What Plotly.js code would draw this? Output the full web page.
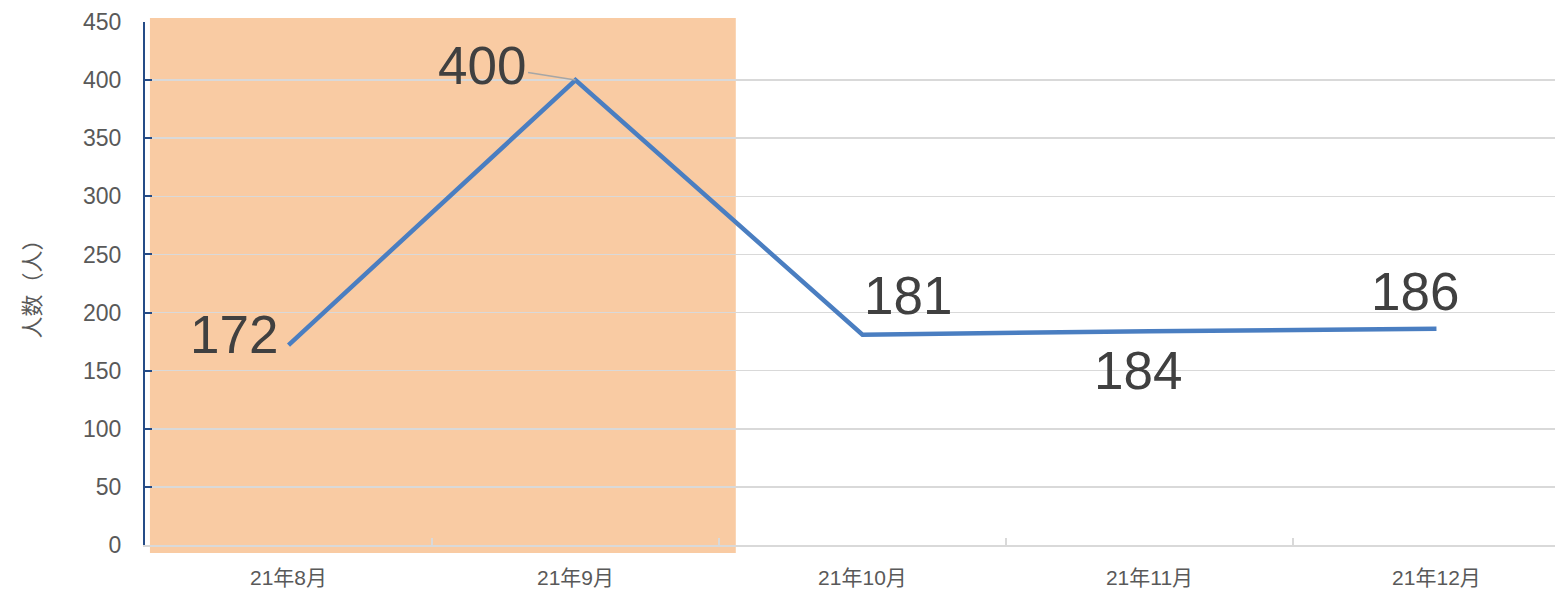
<!DOCTYPE html>
<html><head><meta charset="utf-8">
<script src="https://cdn.plot.ly/plotly-3.0.1.min.js"></script>
<style>html,body{margin:0;padding:0;background:#fff}#chart{width:1557px;height:589px}</style>
</head><body><div id="chart"></div>
<script>
const categories = ['21年8月','21年9月','21年10月','21年11月','21年12月'];
const values = [172, 400, 181, 184, 186];
const yTickValues = [0,50,100,150,200,250,300,350,400,450];
const yTitle = '人数（人）';
// label offsets (px) for each data label
const labelDX = [-55, -93, 46, -11, -21];
const labelDY = [11, 15, 39, -39, 37];

const FONT = 'Liberation Sans, Arial, Noto Sans CJK SC, sans-serif';

const annotations = categories.map((c,i)=>{
  if (i === 1) {
    return {x:c, y:values[i], xref:'x', yref:'y', text:String(values[i]),
      showarrow:true, ax:labelDX[i], ay:-labelDY[i], arrowhead:0, arrowwidth:1.5,
      arrowcolor:'#A6A6A6', standoff:0,
      font:{family:FONT,size:53,color:'#404040'}};
  }
  return {x:c, y:values[i], xref:'x', yref:'y', text:String(values[i]), showarrow:false,
    xshift:labelDX[i], yshift:labelDY[i], xanchor:'center', yanchor:'middle',
    font:{family:FONT,size:53,color:'#404040'}};
});

const trace = {x:categories, y:values, type:'scatter', mode:'lines',
  line:{color:'#4A7EC1', width:4.5}, hoverinfo:'skip', cliponaxis:false};

const layout = {
  width:1557, height:589,
  margin:{l:145, r:2, t:22, b:44},
  paper_bgcolor:'#ffffff', plot_bgcolor:'rgba(0,0,0,0)',
  showlegend:false,
  font:{family:FONT, color:'#595959'},
  xaxis:{type:'category', range:[-0.5, 4.413], tickson:'boundaries',
    ticks:'inside', ticklen:7, tickwidth:1.5, tickcolor:'#D9D9D9',
    showline:true, linecolor:'#D9D9D9', linewidth:2, showgrid:false, zeroline:false,
    tickfont:{family:FONT, size:21, color:'#595959'}, ticklabelstandoff:13},
  yaxis:{range:[0,450], tickvals:yTickValues, ticks:'inside', ticklen:7, tickwidth:2,
    tickcolor:'#254C87', showline:true, linecolor:'#254C87', linewidth:2,
    showgrid:true, gridcolor:'#D9D9D9', gridwidth:1.5, zeroline:false,
    tickfont:{family:FONT, size:23, color:'#595959'}, ticklabelstandoff:17,
    title:{text:yTitle, font:{family:FONT, size:22, color:'#595959'}, standoff:36}},
  shapes:[{type:'rect', xref:'paper', yref:'paper', x0:0.0035, x1:0.419, y0:-0.0153, y1:1.0076,
    fillcolor:'#F9CBA3', line:{width:0}, layer:'below'}],
  annotations:annotations
};
Plotly.newPlot('chart',[trace],layout,{displayModeBar:false, staticPlot:true});
</script></body></html>
